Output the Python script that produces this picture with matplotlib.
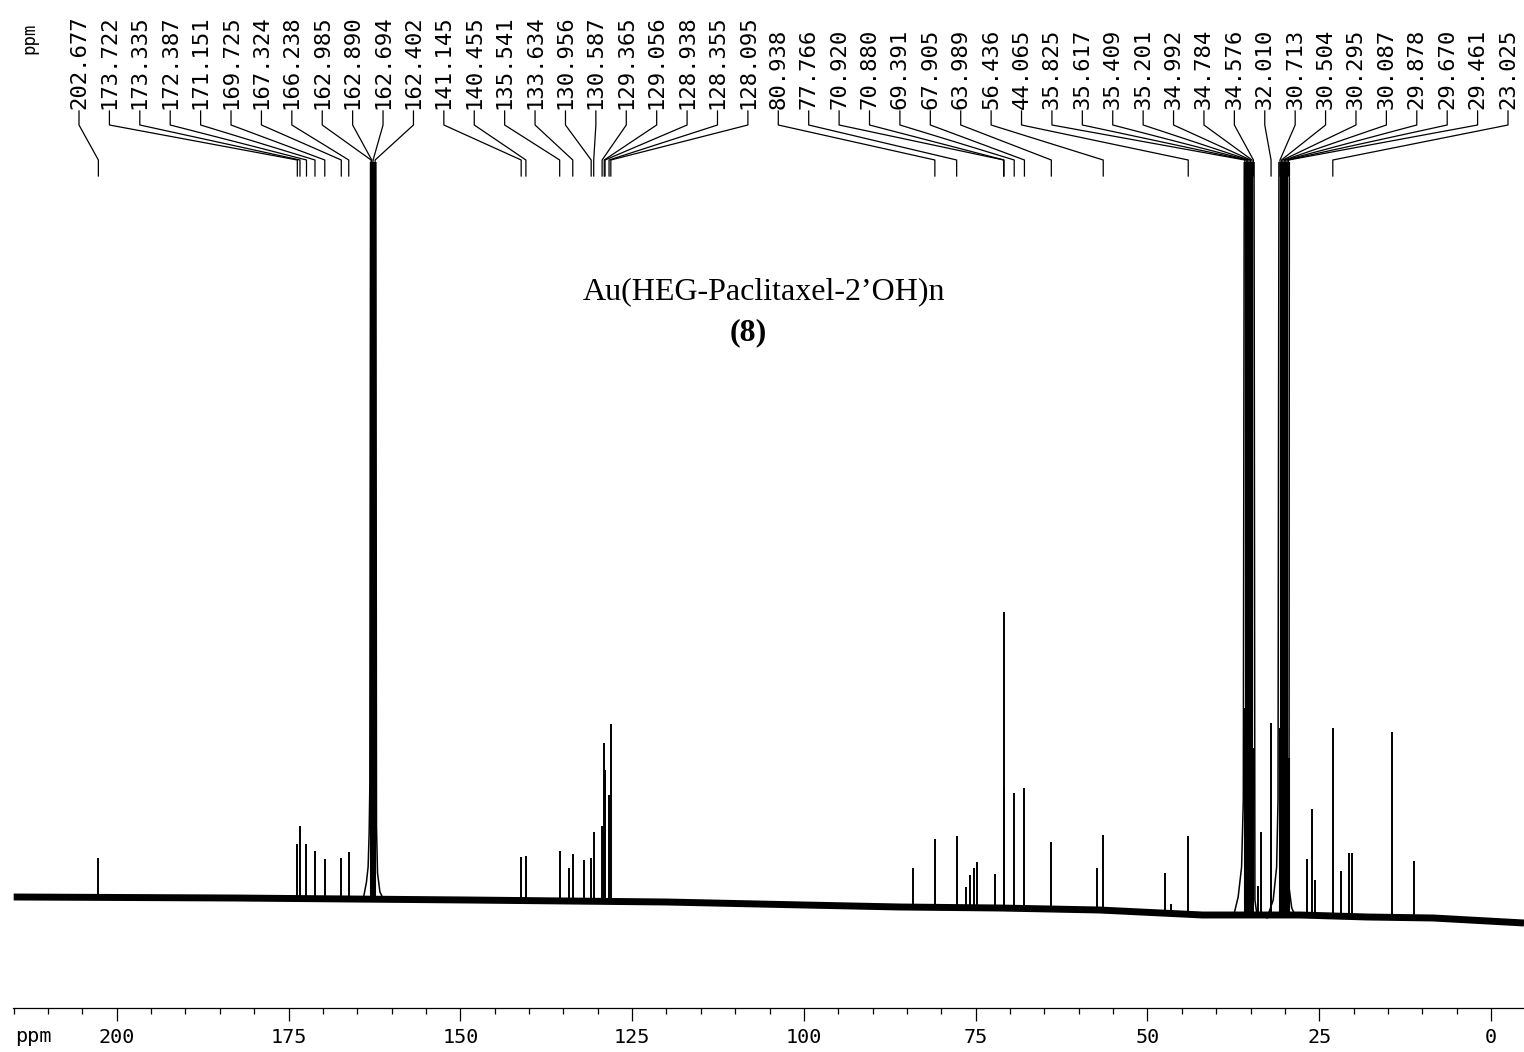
import numpy as np
import matplotlib.pyplot as plt
from matplotlib.ticker import MultipleLocator

# baseline drift of the trace (ppm, level above the ppm axis)
baseline_ppm = [215, 183, 149, 120, 100, 86, 71.5, 57, 42, 27.8, 18, 8.4, -4.8]
baseline_lvl = [111, 110, 108, 106, 103, 101, 100, 98, 93, 93, 91, 90, 85]

# sample peaks (ppm, top level)
peak_ppm = [202.68, 173.72, 173.34, 172.39, 171.15, 169.73, 167.32, 166.24,
            141.15, 140.46, 135.54, 134.2, 133.63, 132.0, 130.96, 130.59,
            129.37, 129.06, 128.94, 128.36, 128.10,
            84.1, 80.94, 77.77, 76.4, 75.8, 75.3, 74.8, 72.2, 70.92, 70.88,
            69.39, 67.91, 63.99, 57.3, 56.44, 47.5, 46.6, 44.07,
            33.9, 33.5, 32.01, 26.8, 26.1, 25.6, 23.03, 21.8, 20.6, 20.3,
            14.4, 11.2]
peak_top = [150, 164, 182, 164, 157, 149, 150, 156,
            151, 152, 157, 140, 154, 148, 150, 176,
            182, 265, 238, 213, 284,
            140, 169, 172, 121, 133, 140, 146, 134, 396, 221,
            215, 220, 166, 140, 173, 135, 104, 172,
            122, 176, 285, 149, 199, 128, 280, 137, 155, 155,
            276, 147]

# solvent (DMF-d7) multiplets, run off the top of the plot
solvent_ppm = [162.985, 162.890, 162.694, 162.402,
               35.825, 35.617, 35.409, 35.201, 34.992, 34.784, 34.576,
               30.713, 30.504, 30.295, 30.087, 29.878, 29.670, 29.461]
solvent_top = [1200, 250, 1200, 1200,
               300, 1200, 1200, 1200, 1200, 1200, 260,
               280, 1200, 1200, 1200, 1200, 1200, 250]

# broad feet of the solvent lines
foot162_ppm = [164.1, 163.66, 163.42, 163.27, 163.17, 163.05, 162.3, 162.2, 162.05, 161.7, 161.2]
foot162_lvl = [110, 126, 141, 175, 221, 900, 900, 181, 135, 116, 109]
foot35_ppm = [37.5, 36.8, 36.3, 36.05, 35.9, 34.5, 34.36, 34.1]
foot35_lvl = [91, 111, 141, 208, 900, 900, 108, 95]
foot30_ppm = [32.6, 31.7, 31.2, 31.0, 30.85, 29.35, 29.4, 29.0, 28.6]
foot30_lvl = [90, 108, 141, 208, 900, 900, 121, 100, 94]

# peak-pick labels at the top
label_ppm = [202.677, 173.722, 173.335, 172.387, 171.151, 169.725, 167.324, 166.238,
             162.985, 162.890, 162.694, 162.402,
             141.145, 140.455, 135.541, 133.634, 130.956, 130.587, 129.365, 129.056,
             128.938, 128.355, 128.095,
             80.938, 77.766, 70.920, 70.880, 69.391, 67.905, 63.989, 56.436, 44.065,
             35.825, 35.617, 35.409, 35.201, 34.992, 34.784, 34.576,
             32.010, 30.713, 30.504, 30.295, 30.087, 29.878, 29.670, 29.461, 23.025]

major_ticks = [200, 175, 150, 125, 100, 75, 50, 25, 0]

W, H = 1524, 1052
mono = 'DejaVu Sans Mono'
fig = plt.figure(figsize=(W / 100, H / 100), dpi=100)
ax = fig.add_axes([13 / W, 1 - 1008 / H, (W - 13) / W, (1008 - 162) / H])
ax.set_xlim(215.1, -4.8)
ax.set_ylim(0, 846)

base = np.interp(peak_ppm, baseline_ppm[::-1], baseline_lvl[::-1])
ax.vlines(peak_ppm, base, peak_top, color='black', lw=1.4)
sbase = np.interp(solvent_ppm, baseline_ppm[::-1], baseline_lvl[::-1])
ax.vlines(solvent_ppm, sbase, solvent_top, color='black', lw=1.5)
for fx, fy in [(foot162_ppm, foot162_lvl), (foot35_ppm, foot35_lvl), (foot30_ppm, foot30_lvl)]:
    ax.plot(fx, fy, color='black', lw=1.1)
ax.plot(baseline_ppm, baseline_lvl, color='black', lw=5, solid_capstyle='butt')

for s in ['top', 'left', 'right']:
    ax.spines[s].set_visible(False)
ax.spines['bottom'].set_linewidth(0.9)
ax.set_yticks([])
ax.set_xticks(major_ticks)
ax.set_xticklabels([str(t) for t in major_ticks], family=mono, fontsize=14.5)
ax.xaxis.set_minor_locator(MultipleLocator(5))
ax.tick_params(axis='x', which='major', length=9.5, width=0.9, pad=5)
ax.tick_params(axis='x', which='minor', length=4.5, width=0.9)

# overlay in pixel coordinates for labels and connectors
ov = fig.add_axes([0, 0, 1, 1])
ov.set_xlim(0, W)
ov.set_ylim(H, 0)
ov.axis('off')

peak_x = ax.transData.transform(np.column_stack([label_ppm, np.zeros(len(label_ppm))]))[:, 0]
label_x = np.linspace(79, 1508, len(label_ppm))
for lx, px, v in zip(label_x, peak_x, label_ppm):
    ov.plot([lx, lx, px, px], [111, 125, 160, 176], color='black', lw=0.9)
    ov.text(lx, 109, f'{v:.3f}', rotation=90, ha='center', va='bottom',
            family=mono, fontsize=16)

ov.text(29, 38, 'ppm', rotation=90, ha='center', va='center', family=mono, fontsize=12.5)
ov.text(15, 1037, 'ppm', ha='left', va='center', family=mono, fontsize=14.5)

ov.text(764, 292, 'Au(HEG-Paclitaxel-2\u2019OH)n', ha='center', va='center',
        family='Liberation Serif', fontsize=23)
ov.text(748, 333, '(8)', ha='center', va='center', family='Liberation Serif',
        fontsize=23, fontweight='bold')

fig.savefig('out.png', dpi=100)
